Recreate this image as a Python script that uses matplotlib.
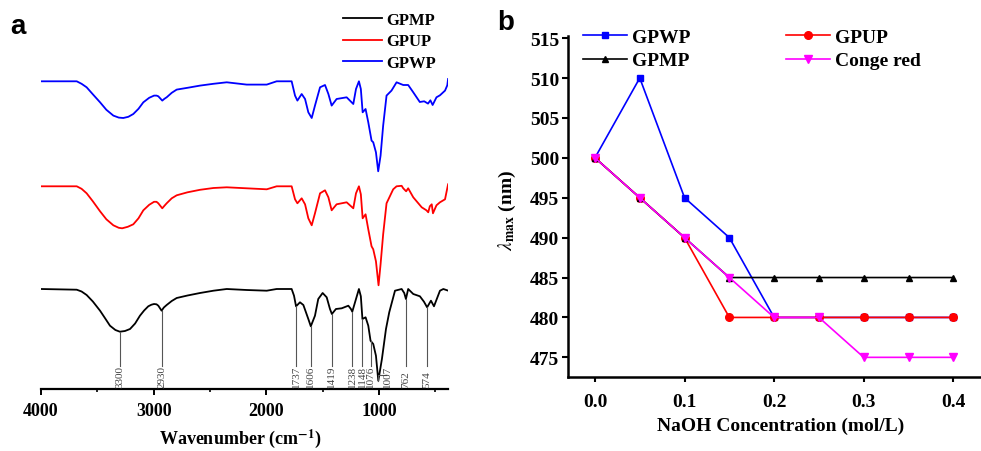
import numpy as np
import matplotlib
matplotlib.use("Agg")
import matplotlib.pyplot as plt

plt.rcParams["font.family"] = ["Liberation Serif", "DejaVu Serif"]
plt.rcParams["mathtext.fontset"] = "stix"

# FTIR spectra (wavenumber, transmittance in arbitrary units, baseline 100)
wn_gpmp = [4000, 3683, 3640, 3595, 3540, 3476, 3430, 3388, 3340, 3300, 3255, 3210, 3165, 3122, 3085,
           3048, 3020, 2997, 2975, 2959, 2930, 2910, 2885, 2840, 2796, 2700, 2589, 2470,
           2352, 2175, 1997, 1909, 1776, 1755, 1737, 1702, 1672, 1628, 1606, 1569, 1540, 1501, 1465,
           1436, 1419, 1383, 1332, 1273, 1250, 1238, 1205, 1179, 1162, 1148, 1120, 1096, 1076, 1052,
           1028, 1007, 975, 939, 910, 859, 800, 777, 762, 742, 697, 638, 602, 574, 540, 513, 460, 430, 386]
t_gpmp = [100, 99.3, 97.5, 94, 87.5, 78.3, 70.5, 63.3, 59, 57.3, 58, 60, 65.5, 73.3, 78.5,
          82.7, 84.3, 85, 84.7, 83.3, 78.3, 81.5, 84, 88, 91, 93.5, 96, 98.3,
          100, 99, 98.3, 100, 100, 93.3, 82.7, 86.7, 84, 70, 62.7, 73.3, 90, 96, 91.7,
          80, 75, 80, 80.7, 83.3, 80, 77.3, 90, 100, 92.7, 70, 71.7, 63.3, 48.3, 45,
          33.3, 8.3, 30, 60, 76.7, 98.3, 100, 96, 90, 100, 95, 92.7, 87.3, 81.7, 88.3, 82.7, 98.3, 100, 98.3]

wn_gpup = [4000, 3683, 3640, 3595, 3540, 3476, 3420, 3358, 3310, 3280, 3230, 3181, 3135, 3092, 3040,
           2997, 2975, 2959, 2924, 2905, 2885, 2840, 2796, 2700, 2589, 2470, 2352,
           2175, 1997, 1909, 1776, 1746, 1725, 1687, 1657, 1628, 1598, 1569, 1524, 1480, 1450, 1421,
           1377, 1288, 1229, 1205, 1179, 1162, 1146, 1120, 1096, 1067, 1052, 1028, 1005, 987, 964,
           934, 875, 845, 800, 786, 760, 742, 697, 622, 580, 564, 550, 533, 522, 491, 460, 415, 388]
t_gpup = [100, 100, 97.5, 93, 85, 75, 67, 61, 58.5, 58, 59.5, 62, 68, 76, 81.5,
          84.5, 84.5, 83, 78, 80.5, 83, 88, 91, 94, 96.5, 98.3, 99,
          98, 97, 100, 100, 87, 83, 88, 82, 68, 61, 73, 93, 96, 89, 76,
          82, 84, 78, 93, 100, 92, 68, 72, 57, 40, 37, 25, 1, 22, 52,
          83, 97, 100, 100.5, 98, 95, 98, 89, 79, 76, 74, 80, 82, 73, 81, 84, 87, 102]

wn_gpwp = [4000, 3683, 3640, 3595, 3540, 3476, 3420, 3358, 3310, 3270, 3225, 3181, 3135, 3092, 3040,
           2997, 2975, 2959, 2924, 2905, 2885, 2840, 2796, 2700, 2589, 2470, 2352,
           2175, 1997, 1909, 1776, 1746, 1725, 1687, 1657, 1628, 1598, 1569, 1524, 1480, 1450, 1421,
           1377, 1288, 1229, 1205, 1179, 1162, 1146, 1120, 1096, 1067, 1052, 1028, 1008, 987, 964,
           934, 890, 845, 786, 742, 697, 639, 600, 566, 545, 525, 491, 460, 415, 395, 388]
t_gpwp = [100, 100, 97.5, 94, 87, 79, 71.5, 65.7, 63.7, 63.3, 64.5, 67.3, 72.5, 79, 83.5,
          85.7, 85.7, 85, 80.7, 82.5, 84, 88.5, 91.7, 93.5, 95.7, 97.5, 99,
          96.7, 96.7, 100, 100, 85.7, 80.7, 87.3, 82.3, 69, 63.3, 75.7, 94, 96.3, 87.3, 75.7,
          82.3, 84, 77.3, 92.3, 100, 92.3, 69, 72.3, 59, 40.7, 39, 29, 10, 25.7, 55.7,
          85.7, 90.7, 99, 96.3, 96.3, 89, 79.3, 80, 77.7, 81, 76.3, 84, 86, 90.7, 96, 102.3]

peaks = [3300, 2930, 1737, 1606, 1419, 1238, 1148, 1076, 1007, 762, 574]

# lambda max vs NaOH concentration
conc = [0.0, 0.05, 0.1, 0.15, 0.2, 0.25, 0.3, 0.35, 0.4]
lam_gpwp = [500, 510, 495, 490, 480, 480, 480, 480, 480]
lam_gpup = [500, 495, 490, 480, 480, 480, 480, 480, 480]
lam_gpmp = [500, 495, 490, 485, 485, 485, 485, 485, 485]
lam_congo = [500, 495, 490, 485, 480, 480, 475, 475, 475]

W, H = 981, 452
fig = plt.figure(figsize=(W / 100, H / 100), dpi=100)

# ---------- panel a ----------
ax_a = fig.add_axes([41 / W, (H - 390) / H, (448.3 - 41) / W, 385 / H])
off_gpmp, off_gpup, off_gpwp = 0, 102.7, 207.7
ax_a.plot(wn_gpmp, np.array(t_gpmp) + off_gpmp, color="black", lw=1.3, label="GPMP")
ax_a.plot(wn_gpup, np.array(t_gpup) + off_gpup, color="#ff0000", lw=1.3, label="GPUP")
ax_a.plot(wn_gpwp, np.array(t_gpwp) + off_gpwp, color="#0000ff", lw=1.3, label="GPWP")
ax_a.set_xlim(4000, 386)
ax_a.set_ylim(0, 385)
for side in ["left", "right", "top"]:
    ax_a.spines[side].set_visible(False)
ax_a.spines["bottom"].set_linewidth(1.6)
ax_a.set_yticks([])
ax_a.set_xticks([4000, 3000, 2000, 1000])
ax_a.set_xticks([3500, 2500, 1500, 500], minor=True)
ax_a.tick_params(axis="x", which="major", direction="out", length=4.5, width=1.4, pad=5, labelsize=13)
ax_a.tick_params(axis="x", which="minor", direction="out", length=2.5, width=1.2)
for lab in ax_a.get_xticklabels():
    lab.set_fontweight("bold")

# peak markers
for p in peaks:
    top = np.interp(p, wn_gpmp[::-1], t_gpmp[::-1])
    if p == 1007:
        ax_a.plot([p, 935], [14, 14], color="#555555", lw=0.8)
        ax_a.plot([p, p], [top, 14], color="#555555", lw=0.8)
        ax_a.text(922, 2, str(p), rotation=90, ha="center", va="bottom", fontsize=8, color="#444444")
    else:
        ax_a.plot([p, p], [top, 23], color="#555555", lw=0.8)
        ax_a.text(p, 2, str(p), rotation=90, ha="center", va="bottom", fontsize=8, color="#444444")

ax_a.legend(loc="upper left", bbox_to_anchor=(343 / W, 1 - 13 / H), bbox_transform=fig.transFigure,
            frameon=False, borderpad=0, borderaxespad=0, handlelength=2.35, handletextpad=0.25,
            labelspacing=0.33, prop={"weight": "bold", "size": 12})
ax_a.set_xlabel("Wavenumber (cm$^{\\mathbf{-1}}$)", fontsize=13, fontweight="bold")
ax_a.xaxis.set_label_coords(0.489, -0.096)

# ---------- panel b ----------
ax_b = fig.add_axes([568 / W, (H - 378.3) / H, (980 - 568) / W, (378.3 - 36.7) / H])
l_wp, = ax_b.plot(conc, lam_gpwp, "-s", color="#0000ff", lw=1.2, ms=5, label="GPWP")
l_up, = ax_b.plot(conc, lam_gpup, "-o", color="#ff0000", lw=1.2, ms=5.5, label="GPUP")
l_mp, = ax_b.plot(conc, lam_gpmp, "-^", color="black", lw=1.2, ms=5, label="GPMP")
l_cr, = ax_b.plot(conc, lam_congo, "-v", color="#ff00ff", lw=1.2, ms=5.5, label="Conge red")
ax_b.set_xlim(-0.0301, 0.4298)
ax_b.set_ylim(472.5, 515.3)
ax_b.set_xticks([0.0, 0.1, 0.2, 0.3, 0.4])
ax_b.set_yticks([475, 480, 485, 490, 495, 500, 505, 510, 515])
ax_b.spines["right"].set_visible(False)
ax_b.spines["top"].set_visible(False)
ax_b.spines["left"].set_linewidth(1.8)
ax_b.spines["bottom"].set_linewidth(1.8)
ax_b.tick_params(axis="x", direction="out", length=3.5, width=1.5, pad=8, labelsize=14)
ax_b.tick_params(axis="y", direction="out", length=4.5, width=1.5, pad=2, labelsize=14)
for lab in ax_b.get_xticklabels() + ax_b.get_yticklabels():
    lab.set_fontweight("bold")
ax_b.legend(handles=[l_wp, l_mp, l_up, l_cr], ncol=2, loc="upper left",
            bbox_to_anchor=(583 / W, 1 - 29 / H), bbox_transform=fig.transFigure,
            frameon=False, borderpad=0, borderaxespad=0, handlelength=2.27, handletextpad=0.25,
            columnspacing=4.9, labelspacing=0.32, prop={"weight": "bold", "size": 14})
ax_b.set_xlabel("NaOH Concentration (mol/L)", fontsize=14, fontweight="bold")
ax_b.xaxis.set_label_coords(0.515, -0.116)
ax_b.set_ylabel("$\\lambda_{\\mathbf{max}}$ (nm)", fontsize=14, fontweight="bold")
ax_b.yaxis.set_label_coords(-0.121, 0.493)

fig.text(10 / W, 1 - 34 / H, "a", fontsize=20, fontweight="bold", family="Liberation Sans")
fig.text(497 / W, 1 - 30 / H, "b", fontsize=20, fontweight="bold", family="Liberation Sans")

fig.savefig("out.png", dpi=100)
